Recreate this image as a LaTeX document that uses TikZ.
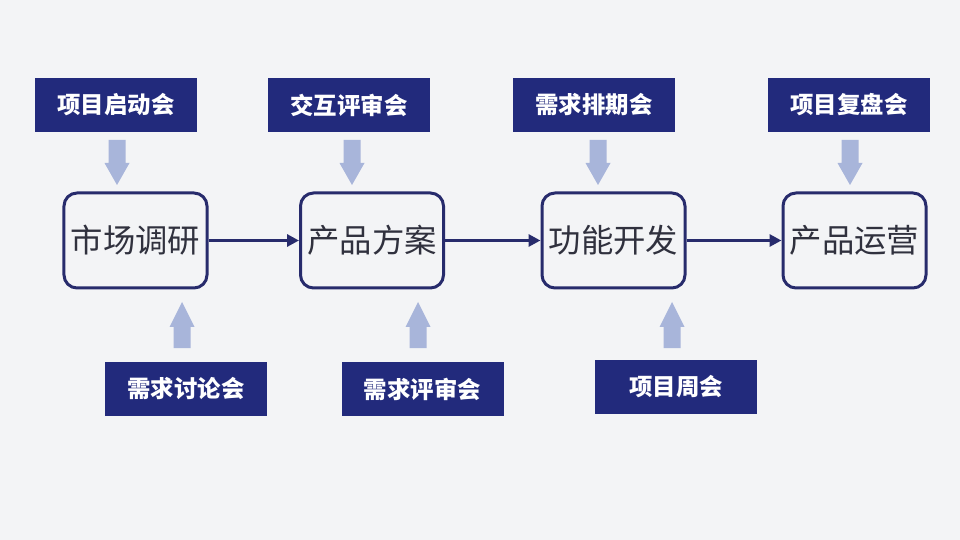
\documentclass[tikz,border=0pt]{standalone}
\usepackage{fontspec}
\newfontfamily\cjk{Noto Sans CJK SC}
\usetikzlibrary{arrows.meta}
\definecolor{bg}{HTML}{F3F4F6}
\definecolor{navy}{HTML}{222A7C}
\definecolor{boxline}{HTML}{272B6C}
\definecolor{txt}{HTML}{30313E}
\definecolor{barrow}{HTML}{A8B5DA}
\tikzset{
  lab/.style={fill=navy, text=white, minimum width=162bp, minimum height=54bp, inner sep=0pt, font=\cjk\bfseries\fontsize{23.5}{26}\selectfont},
  stage/.style={draw=boxline, line width=3bp, rounded corners=13bp, fill=bg, text=txt, minimum width=143bp, minimum height=95bp, inner sep=0pt, font=\cjk\fontsize{32.5}{36}\selectfont},
  flow/.style={draw=boxline, line width=3.5bp, -{Triangle[length=12bp,width=12bp]}},
  blk/.style={fill=barrow, draw=none}
}
\newcommand{\blockdown}[2]{% cx, ytop
  \fill[blk] ({#1-8.5},#2) -- ({#1+8.5},#2) -- ({#1+8.5},#2+23) -- ({#1+12.5},#2+23) -- (#1,#2+45) -- ({#1-12.5},#2+23) -- ({#1-8.5},#2+23) -- cycle;}
\newcommand{\blockup}[2]{% cx, ybottom
  \fill[blk] ({#1-8.5},#2) -- ({#1+8.5},#2) -- ({#1+8.5},#2-21) -- ({#1+12.5},#2-21) -- (#1,#2-46) -- ({#1-12.5},#2-21) -- ({#1-8.5},#2-21) -- cycle;}
\begin{document}
\begin{tikzpicture}[x=1bp,y=-1bp]
\fill[bg] (0,0) rectangle (960,540);
\useasboundingbox (0,0) rectangle (960,540);
% stages
\node[stage] (s1) at (135.5,240.5) {市场调研};
\node[stage] (s2) at (372,240.5) {产品方案};
\node[stage] (s3) at (613.5,240.5) {功能开发};
\node[stage] (s4) at (854.5,240.5) {产品运营};
% flow connectors
\draw[flow] (s1.east) -- (s2.west);
\draw[flow] (s2.east) -- (s3.west);
\draw[flow] (s3.east) -- (s4.west);
% top labels
\node[lab] (t1) at (116,105) {项目启动会};
\node[lab] (t2) at (349,105) {交互评审会};
\node[lab] (t3) at (594,105) {需求排期会};
\node[lab] (t4) at (849,105) {项目复盘会};
% bottom labels
\node[lab] (b1) at (186,389) {需求讨论会};
\node[lab] (b2) at (422.5,389) {需求评审会};
\node[lab] (b3) at (676,387) {项目周会};
% block arrows
\blockdown{117}{140}
\blockdown{352}{140}
\blockdown{598}{140}
\blockdown{850}{140}
\blockup{182}{348}
\blockup{418}{348}
\blockup{672}{348}
\end{tikzpicture}
\end{document}
